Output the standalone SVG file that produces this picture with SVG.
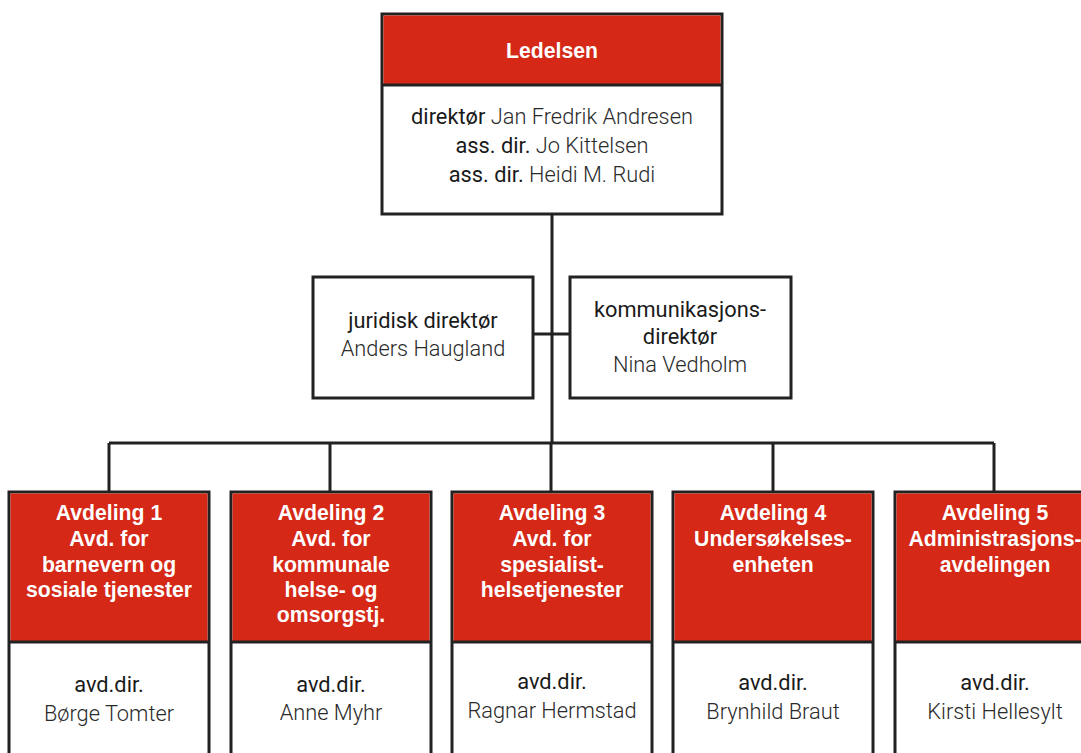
<svg xmlns="http://www.w3.org/2000/svg" width="1081" height="753" viewBox="0 0 1081 753">
<style>
.box{fill:#fff;stroke:#222;stroke-width:3}
.hdr{fill:#d52816}
.div{stroke:#222;stroke-width:3}
.con{stroke:#222;stroke-width:3;fill:none}
.ht{font-family:"Liberation Sans",Arial,sans-serif;font-weight:bold;font-size:21.2px;fill:#fff;text-anchor:middle}
.lb{font-family:Roboto,"Liberation Sans",sans-serif;font-weight:400;font-size:21.8px;fill:#1a1a1a;text-anchor:middle}
.nm{font-family:Roboto,"Liberation Sans",sans-serif;font-weight:300;font-size:21.8px;fill:#2a2a2a}
</style>
<rect width="1081" height="753" fill="#fff"/>
<g id="connectors">
<path class="con" d="M552,214 V443 M533,334 H570 M109,443 H994 M109,443 V491 M330,443 V491 M551,443 V491 M773,443 V491 M994,443 V491"/>
</g>
<g id="ledelsen">
<rect class="box" x="382" y="14" width="340" height="200"/>
<rect class="hdr" x="383.5" y="15.5" width="337" height="69.5"/>
<line class="div" x1="382" y1="85" x2="722" y2="85"/>
<text class="ht" x="552" y="58">Ledelsen</text>
<text class="lb" x="552" y="124">direktør <tspan class="nm">Jan Fredrik Andresen</tspan></text>
<text class="lb" x="552" y="153">ass. dir. <tspan class="nm">Jo Kittelsen</tspan></text>
<text class="lb" x="552" y="182">ass. dir. <tspan class="nm">Heidi M. Rudi</tspan></text>
</g>
<g id="juridisk">
<rect class="box" x="313" y="277" width="220" height="121"/>
<text class="lb" x="423" y="328">juridisk direktør</text>
<text class="lb nm" x="423" y="356">Anders Haugland</text>
</g>
<g id="kommunikasjon">
<rect class="box" x="570" y="277" width="221" height="121"/>
<text class="lb" x="680" y="317">kommunikasjons-</text>
<text class="lb" x="680" y="344">direktør</text>
<text class="lb nm" x="680" y="372">Nina Vedholm</text>
</g>
<g id="avd1">
<rect class="box" x="9" y="492" width="200" height="280"/>
<rect class="hdr" x="10.5" y="493.5" width="197" height="148.5"/>
<line class="div" x1="9" y1="642" x2="209" y2="642"/>
<text class="ht" x="109" y="520">Avdeling 1</text>
<text class="ht" x="109" y="546">Avd. for</text>
<text class="ht" x="109" y="572">barnevern og</text>
<text class="ht" x="109" y="597">sosiale tjenester</text>
<text class="lb" x="109" y="692">avd.dir.</text>
<text class="lb nm" x="109" y="721">Børge Tomter</text>
</g>
<g id="avd2">
<rect class="box" x="231" y="492" width="200" height="280"/>
<rect class="hdr" x="232.5" y="493.5" width="197" height="148.5"/>
<line class="div" x1="231" y1="642" x2="431" y2="642"/>
<text class="ht" x="331" y="520">Avdeling 2</text>
<text class="ht" x="331" y="546">Avd. for</text>
<text class="ht" x="331" y="572">kommunale</text>
<text class="ht" x="331" y="597">helse- og</text>
<text class="ht" x="331" y="622">omsorgstj.</text>
<text class="lb" x="331" y="692">avd.dir.</text>
<text class="lb nm" x="331" y="720">Anne Myhr</text>
</g>
<g id="avd3">
<rect class="box" x="452" y="492" width="200" height="280"/>
<rect class="hdr" x="453.5" y="493.5" width="197" height="148.5"/>
<line class="div" x1="452" y1="642" x2="652" y2="642"/>
<text class="ht" x="552" y="520">Avdeling 3</text>
<text class="ht" x="552" y="546">Avd. for</text>
<text class="ht" x="552" y="572">spesialist-</text>
<text class="ht" x="552" y="597">helsetjenester</text>
<text class="lb" x="552" y="689">avd.dir.</text>
<text class="lb nm" x="552" y="718">Ragnar Hermstad</text>
</g>
<g id="avd4">
<rect class="box" x="673" y="492" width="200" height="280"/>
<rect class="hdr" x="674.5" y="493.5" width="197" height="148.5"/>
<line class="div" x1="673" y1="642" x2="873" y2="642"/>
<text class="ht" x="773" y="520">Avdeling 4</text>
<text class="ht" x="773" y="546">Undersøkelses-</text>
<text class="ht" x="773" y="572">enheten</text>
<text class="lb" x="773" y="690">avd.dir.</text>
<text class="lb nm" x="773" y="719">Brynhild Braut</text>
</g>
<g id="avd5">
<rect class="box" x="895" y="492" width="200" height="280"/>
<rect class="hdr" x="896.5" y="493.5" width="197" height="148.5"/>
<line class="div" x1="895" y1="642" x2="1095" y2="642"/>
<text class="ht" x="995" y="520">Avdeling 5</text>
<text class="ht" x="995" y="546">Administrasjons-</text>
<text class="ht" x="995" y="572">avdelingen</text>
<text class="lb" x="995" y="690">avd.dir.</text>
<text class="lb nm" x="995" y="719">Kirsti Hellesylt</text>
</g>
</svg>
